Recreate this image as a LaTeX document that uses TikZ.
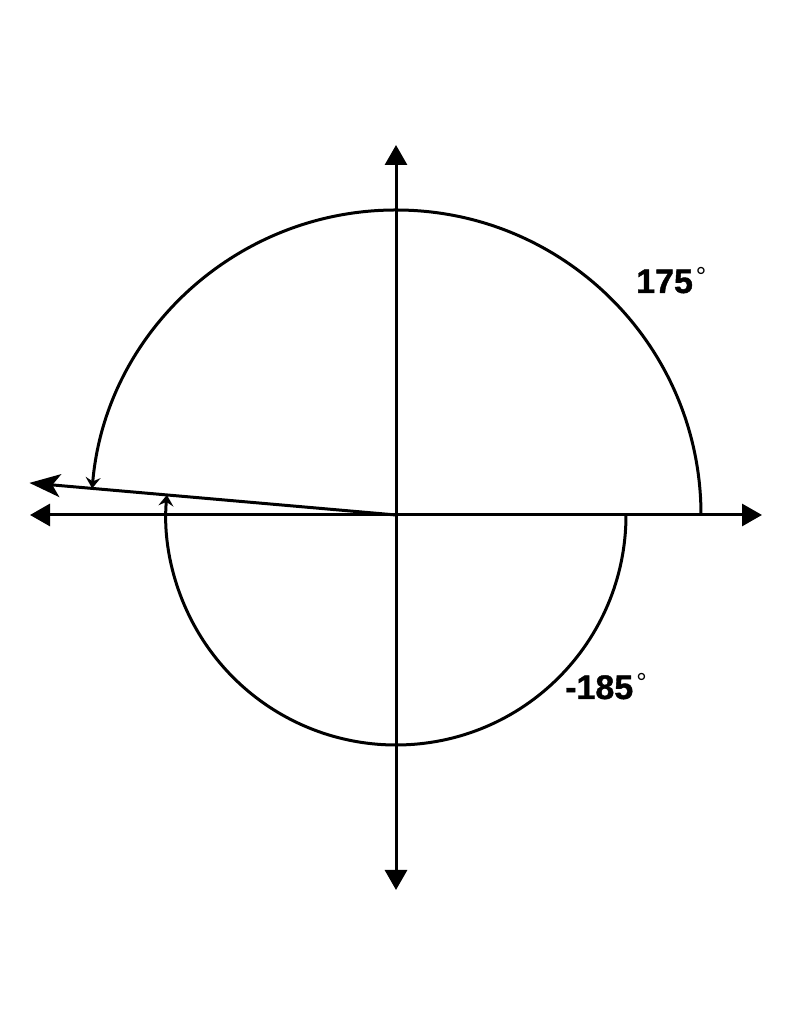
\documentclass[tikz,border=0pt]{standalone}
\usepackage{fontspec}
\setmainfont{Liberation Sans}
\newfontfamily\heavyfont[FakeBold=1.2]{Liberation Sans Bold}
\usetikzlibrary{arrows.meta,calc}
\newcommand{\degsign}{\kern3pt\raisebox{7pt}{\fontsize{26}{26}\selectfont\normalfont °}}
\begin{document}
\begin{tikzpicture}[x=1pt,y=1pt,
  axis/.style={line width=3pt,-{Triangle[width=22pt,length=20pt]}},
  ray/.style={line width=3pt,-{Stealth[width=23pt,length=31pt,inset=8pt]}},
  arcline/.style={line width=3pt,-{Stealth[width=15pt,length=11pt,inset=4pt]}},
  lbl/.style={font=\fontsize{34}{40}\selectfont\heavyfont,inner sep=0pt}]
\useasboundingbox (0,0) rectangle (791,1024);
\coordinate (O) at (396,509);
\coordinate (xl) at (30,509);
\coordinate (xr) at (762,509);
\coordinate (yt) at (396,879);
\coordinate (yb) at (396,134);
\coordinate (rayend) at ($(O)+(175:368)$);
\draw[axis] (O) -- (xr);
\draw[axis] (O) -- (xl);
\draw[axis] (O) -- (yt);
\draw[axis] (O) -- (yb);
\draw[ray] (O) -- (rayend);
\draw[arcline] (701,509) arc[start angle=0,end angle=175,radius=305];
\draw[arcline] (626,509) arc[start angle=0,end angle=-185,radius=230];
\node[lbl,anchor=base west] (l175) at (636,731) {175\degsign};
\node[lbl,anchor=base west] (l185) at (565,325) {-185\degsign};
\end{tikzpicture}
\end{document}
